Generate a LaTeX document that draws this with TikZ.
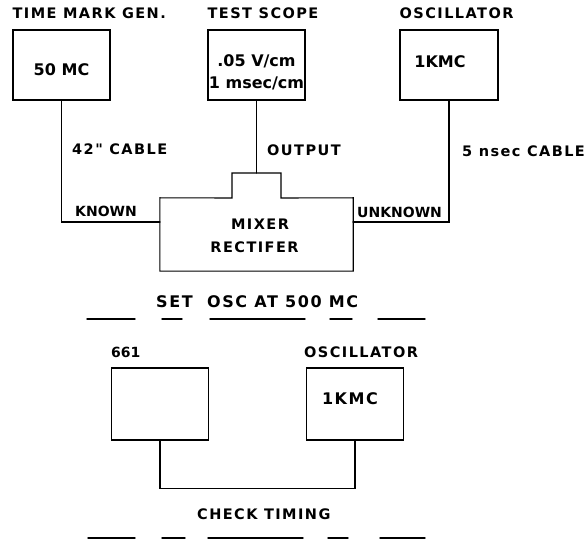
\documentclass[tikz,border=0pt]{standalone}
\usepackage{fontspec}
\setmainfont{DejaVu Sans}
\newfontfamily\spacedfont{DejaVu Sans}[LetterSpace=10]
\usetikzlibrary{positioning}

\begin{document}
\begin{tikzpicture}[x=1pt,y=-1pt,line cap=round,
  unit/.style={draw,line width=1.1pt,minimum width=97pt,minimum height=72pt,inner sep=0pt},
  lbl/.style={anchor=base west,inner sep=0pt,font=\bfseries\fontsize{14}{16}\selectfont},
  spaced/.style={anchor=base west,inner sep=0pt,font=\spacedfont\bfseries\fontsize{14.5}{16}\selectfont},
  inbox/.style={inner sep=0pt,font=\bfseries\fontsize{16}{20}\selectfont},
  wire/.style={line width=1.1pt},
  blank/.style={line width=1.4pt}]
\useasboundingbox (0,0) rectangle (587,540);
% set osc at 500 mc
\node[unit,minimum height=70pt] (tmg) at (61.5,65) {};
\node[unit,minimum height=70pt] (scope) at (256.5,65) {};
\node[unit,minimum height=70pt,minimum width=98pt] (osc) at (449,65) {};
\node[spaced] (tmglbl) at ([yshift=11pt]tmg.north west) {TIME MARK GEN.};
\node[spaced] (scopelbl) at ([yshift=11pt]scope.north west) {TEST SCOPE};
\node[spaced] (osclbl) at ([yshift=11pt]osc.north west) {OSCILLATOR};
\node[inbox] (tmgset) at ([yshift=-5pt]tmg.center) {50 MC};
\node[inbox,align=center] (scopeset) at ([yshift=-7pt]scope.center) {.05 V/cm\\[2pt]1 msec/cm};
\node[inbox] (oscset) at ([xshift=-9pt,yshift=3pt]osc.center) {1KMC};
\node[inner sep=0pt,minimum width=193pt,minimum height=73pt] (mix) at (256.5,234.5) {};
\node[spaced,anchor=base] (mixtop) at (260,230) {MIXER};
\node[spaced,anchor=base] (mixbot) at (254.5,253) {RECTIFER};
\coordinate (tabtop) at (256.5,173);
\coordinate (knownend) at (160,222);
\coordinate (unknownend) at (353,222);
\draw[wire] (mix.north west) -- (232,198) -- (232,173) -- (281,173) -- (281,198)
  -- (mix.north east) -- (mix.south east) -- (mix.south west) -- cycle;
\draw[wire] (tmg.south) |- (knownend);
\draw[wire] (scope.south) -- (tabtop);
\draw[wire] (osc.south) |- (unknownend);
\node[spaced] (cablea) at (72,155) {42" CABLE};
\node[spaced] (outlbl) at (267,156) {OUTPUT};
\node[spaced] (cableb) at (462,157) {5 nsec CABLE};
\node[lbl] (knownlbl) at (75,217) {KNOWN};
\node[lbl] (unknownlbl) at (357,218) {UNKNOWN};
\node[spaced,font=\spacedfont\bfseries\fontsize{16}{18}\selectfont] (settitle) at (156,308) {SET\ \ OSC AT 500 MC};
\draw[blank] (87,319) -- (135,319);
\draw[blank] (162,319) -- (182,319);
\draw[blank] (210,319) -- (305,319);
\draw[blank] (330,319) -- (352,319);
\draw[blank] (378,319) -- (425,319);
% check timing
\node[unit] (scope661) at (160,404) {};
\node[unit] (osctwo) at (355,404) {};
\node[lbl] (lbl661) at ([yshift=10pt]scope661.north west) {661};
\node[spaced] (osctwolbl) at ([xshift=-2pt,yshift=10pt]osctwo.north west) {OSCILLATOR};
\node[inbox,font=\spacedfont\bfseries\fontsize{16}{20}\selectfont] (osctwoset) at ([xshift=-5pt,yshift=5pt]osctwo.center) {1KMC};
\draw[wire] (scope661.south) -- ++(0,48) -| (osctwo.south);
\node[spaced] (checktitle) at (197,519) {CHECK TIMING};
\draw[blank] (88,538) -- (135,538);
\draw[blank] (162,538) -- (185,538);
\draw[blank] (208,538) -- (303,538);
\draw[blank] (328,538) -- (348,538);
\draw[blank] (380,538) -- (425,538);
\end{tikzpicture}
\end{document}
